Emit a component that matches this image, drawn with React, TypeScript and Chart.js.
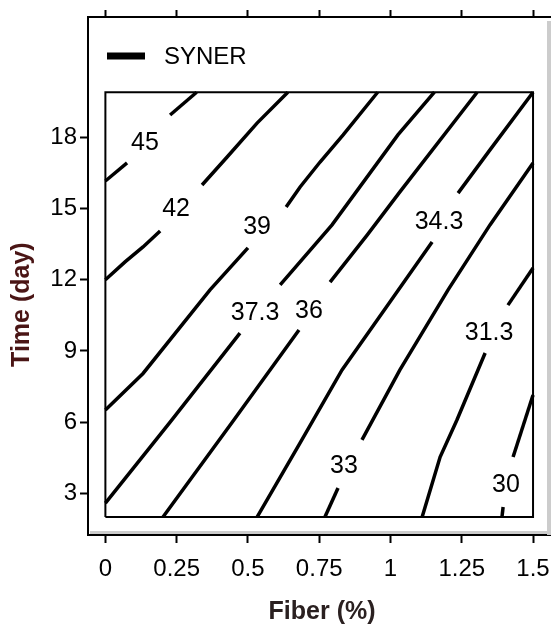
import { useEffect, useRef } from "react";
import { Chart, registerables } from "chart.js";

Chart.register(...registerables);

const FONT = "'Liberation Sans', Arial, sans-serif";

// axis ranges (data units)
const X_MIN = -0.061;
const X_MAX = 1.563;
const Y_MIN = 1.243;
const Y_MAX = 23.07;

const xTickValues = [0, 0.25, 0.5, 0.75, 1, 1.25, 1.5];
const xTickLabels = ["0", "0.25", "0.5", "0.75", "1", "1.25", "1.5"];
const yTickValues = [3, 6, 9, 12, 15, 18];
const yTickLabels = ["3", "6", "9", "12", "15", "18"];

// experimental region (Fiber 0..1.5, Time 2..19.9)
const regionX = [0, 1.5, 1.5, 0, 0];
const regionY = [2, 2, 19.9, 19.9, 2];

const seriesName = "SYNER";

// contour levels and label anchors (data units)
const contourLevels = ["45", "42", "39", "37.3", "36", "34.3", "33", "31.3", "30"];
const labelX = [0.139, 0.248, 0.532, 0.525, 0.714, 1.17, 0.837, 1.346, 1.405];
const labelY = [17.76, 14.98, 14.22, 10.6, 10.68, 14.43, 4.15, 9.75, 3.35];

// each contour line: two pieces split where its label sits, [fiber, time]
const c45a = [[0, 16.16], [0.076, 16.92]];
const c45b = [[0.227, 18.94], [0.32, 19.9]];
const c42a = [[0, 12.0], [0.069, 12.75], [0.132, 13.38], [0.192, 14.05]];
const c42b = [[0.339, 15.99], [0.427, 17.17], [0.532, 18.6], [0.64, 19.9]];
const c39a = [[0, 6.51], [0.132, 8.05], [0.367, 11.57], [0.5, 13.34]];
const c39b = [[0.634, 15.06], [0.683, 15.91], [0.753, 16.96], [0.834, 18.1], [0.955, 19.9]];
const c373a = [[0, 2.59], [0.227, 6.0], [0.472, 9.75]];
const c373b = [[0.613, 11.78], [0.795, 14.31], [1.026, 18.1], [1.154, 19.9]];
const c36a = [[0.202, 2], [0.448, 6.05], [0.679, 9.88]];
const c36b = [[0.788, 11.9], [0.918, 13.88], [1.033, 15.7], [1.304, 19.9]];
const c343a = [[0.532, 2], [0.683, 5.12], [0.83, 8.2], [0.998, 11.06], [1.146, 13.59]];
const c343b = [[1.237, 15.65], [1.349, 17.47], [1.5, 19.9]];
const c33a = [[0.77, 2], [0.816, 3.22]];
const c33b = [[0.9, 5.25], [1.033, 8.2], [1.202, 11.57], [1.349, 14.31], [1.5, 16.92]];
const c313a = [[1.111, 2], [1.174, 4.53], [1.233, 6.09], [1.332, 8.91]];
const c313b = [[1.412, 10.93], [1.5, 12.49]];
const c30a = [[1.391, 2], [1.395, 2.42]];
const c30b = [[1.43, 4.53], [1.5, 7.14]];

const contourPieces = [c45a, c45b, c42a, c42b, c39a, c39b, c373a, c373b, c36a, c36b, c343a, c343b, c33a, c33b, c313a, c313b, c30a, c30b];

const decorPlugin = {
  id: "decor",
  afterDraw(chart: any) {
    const { ctx, scales, chartArea } = chart;
    const x = scales.x;
    const y = scales.y;
    ctx.save();
    // shadow strips of the frame
    ctx.fillStyle = "#cccccc";
    ctx.fillRect(547, chartArea.top + 4, 4, chartArea.bottom - chartArea.top - 4);
    ctx.fillRect(chartArea.left + 2, chartArea.bottom - 4, chartArea.right - chartArea.left, 3);

    // contour labels
    ctx.fillStyle = "#000";
    ctx.font = `25px ${FONT}`;
    ctx.textAlign = "center";
    ctx.textBaseline = "middle";
    contourLevels.forEach((t, i) => {
      ctx.fillText(t, x.getPixelForValue(labelX[i]), y.getPixelForValue(labelY[i]));
    });

    // legend
    const ly = chartArea.top + 39;
    ctx.strokeStyle = "#000";
    ctx.lineWidth = 7;
    ctx.beginPath();
    ctx.moveTo(chartArea.left + 19, ly);
    ctx.lineTo(chartArea.left + 57, ly);
    ctx.stroke();
    ctx.textAlign = "left";
    ctx.font = `24px ${FONT}`;
    ctx.fillText(seriesName, chartArea.left + 76, ly + 1);

    // axis titles
    ctx.textAlign = "center";
    ctx.font = `bold 25px ${FONT}`;
    ctx.fillStyle = "#2a2020";
    ctx.fillText("Fiber (%)", x.getPixelForValue(0.76), 612);
    ctx.save();
    ctx.translate(22, y.getPixelForValue(10.95));
    ctx.rotate(-Math.PI / 2);
    ctx.fillStyle = "#4a1515";
    ctx.fillText("Time (day)", 0, 0);
    ctx.restore();
    ctx.restore();
  },
};

export default function App() {
  const ref = useRef<HTMLCanvasElement | null>(null);
  useEffect(() => {
    if (!ref.current) return;
    const gridCommon = {
      display: true,
      drawOnChartArea: false,
      drawTicks: true,
      tickLength: 8,
      tickWidth: 2,
      tickColor: "#000",
    };
    const datasets: any[] = contourPieces.map((seg) => ({
      data: seg.map(([a, b]) => ({ x: a, y: b })),
      showLine: true,
      borderColor: "#000",
      borderWidth: 3.5,
      pointRadius: 0,
      fill: false,
    }));
    datasets.push({
      data: regionX.map((v, i) => ({ x: v, y: regionY[i] })),
      showLine: true,
      borderColor: "#000",
      borderWidth: 2,
      pointRadius: 0,
      fill: false,
    });
    const chart = new Chart(ref.current, {
      type: "scatter",
      data: { datasets },
      plugins: [decorPlugin],
      options: {
        animation: false,
        responsive: false,
        devicePixelRatio: 1,
        layout: { padding: 0, autoPadding: false },
        plugins: { legend: { display: false }, tooltip: { enabled: false } },
        scales: {
          x: {
            type: "linear",
            position: "bottom",
            min: X_MIN,
            max: X_MAX,
            afterBuildTicks: (s: any) => {
              s.ticks = xTickValues.map((v) => ({ value: v }));
            },
            afterFit: (s: any) => {
              s.height = 95;
              s.paddingLeft = 0;
              s.paddingRight = 0;
            },
            ticks: {
              autoSkip: false,
              maxRotation: 0,
              padding: 12,
              color: "#000",
              font: { family: FONT, size: 24 },
              callback: (v: any) => {
                const i = xTickValues.findIndex((t) => Math.abs(t - Number(v)) < 1e-9);
                return i >= 0 ? xTickLabels[i] : "";
              },
            },
            grid: gridCommon,
            border: { display: true, color: "#000", width: 2 },
          },
          x2: {
            type: "linear",
            position: "top",
            min: X_MIN,
            max: X_MAX,
            afterBuildTicks: (s: any) => {
              s.ticks = xTickValues.map((v) => ({ value: v }));
            },
            afterFit: (s: any) => {
              s.height = 17;
              s.paddingLeft = 0;
              s.paddingRight = 0;
            },
            ticks: { display: false },
            grid: { ...gridCommon, tickLength: 7 },
            border: { display: true, color: "#000", width: 2 },
          },
          y: {
            type: "linear",
            position: "left",
            min: Y_MIN,
            max: Y_MAX,
            afterBuildTicks: (s: any) => {
              s.ticks = yTickValues.map((v) => ({ value: v }));
            },
            afterFit: (s: any) => {
              s.width = 88;
              s.paddingTop = 0;
              s.paddingBottom = 0;
            },
            ticks: {
              autoSkip: false,
              padding: 3,
              color: "#000",
              font: { family: FONT, size: 24 },
              callback: (v: any) => {
                const i = yTickValues.findIndex((t) => Math.abs(t - Number(v)) < 1e-9);
                return i >= 0 ? yTickLabels[i] : "";
              },
            },
            grid: gridCommon,
            border: { display: true, color: "#000", width: 2 },
          },
        },
      },
    } as any);
    return () => chart.destroy();
  }, []);
  return (
    <div style={{ position: "absolute", left: 0, top: 0, width: 551, height: 630, background: "#fff" }}>
      <canvas ref={ref} width={551} height={630} style={{ display: "block" }} />
    </div>
  );
}
